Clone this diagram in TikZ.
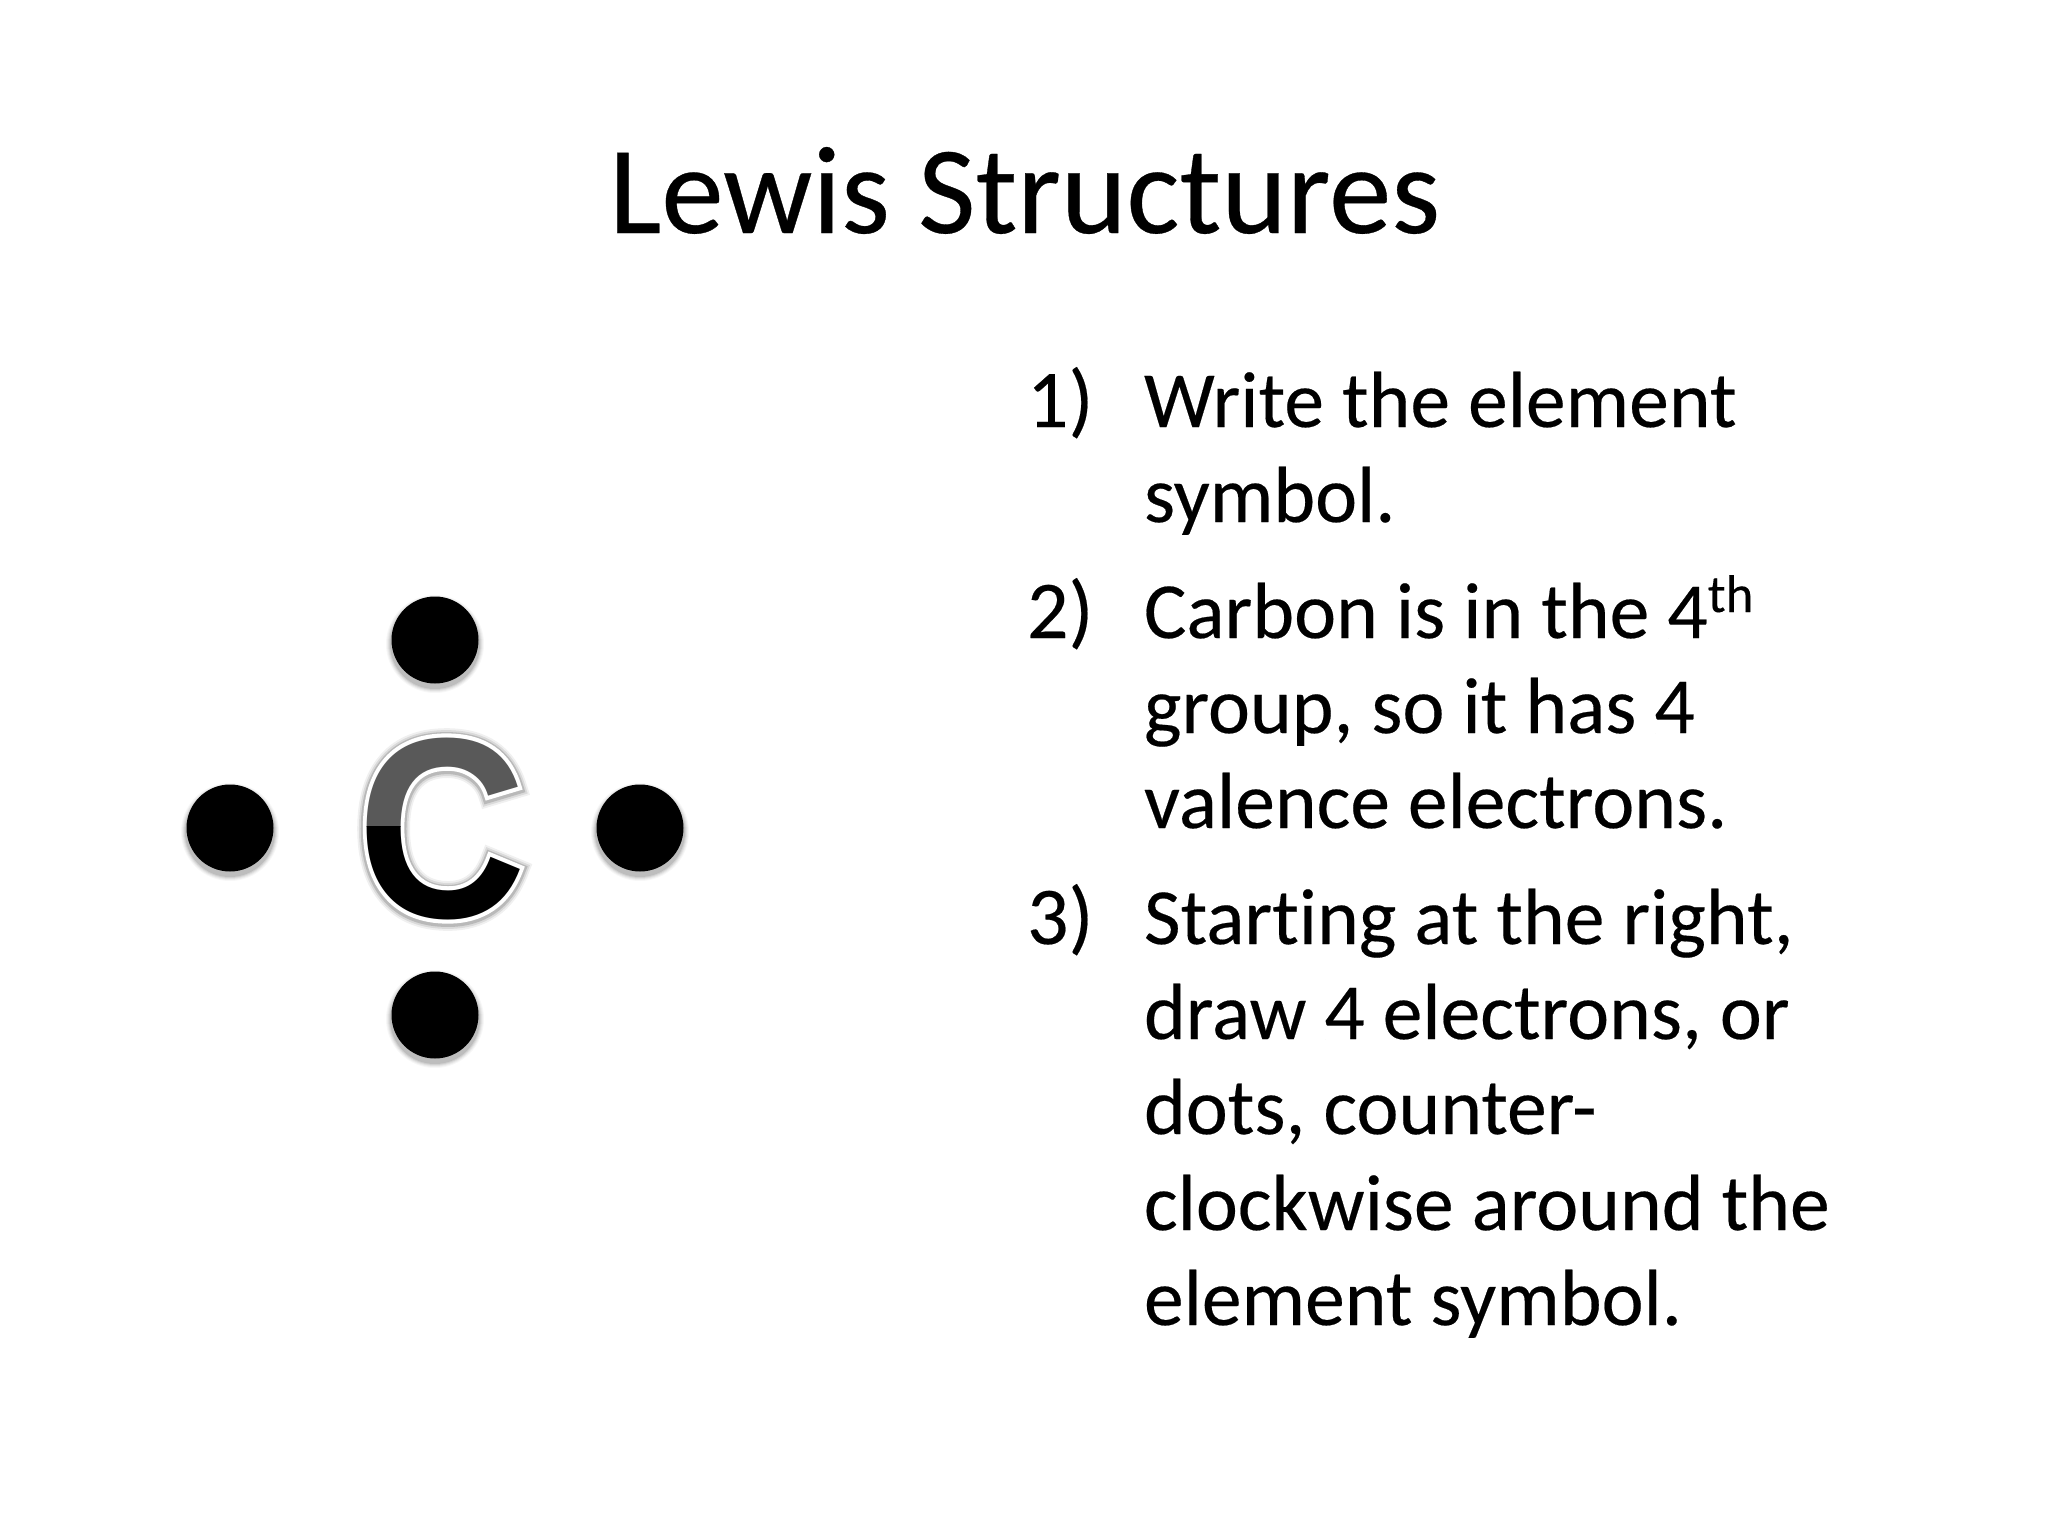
\documentclass[tikz,border=0pt]{standalone}
\usepackage{fontspec}
\setmainfont{Carlito}[Ligatures=NoCommon,FakeBold=0.25]
\newfontfamily\symfont{Liberation Sans Bold}
\newfontfamily\symwhite{Liberation Sans Bold}[FakeBold=3.2]
\newfontfamily\symhaloA{Liberation Sans Bold}[FakeBold=5]
\newfontfamily\symhaloB{Liberation Sans Bold}[FakeBold=6.5]
\newfontfamily\symhaloC{Liberation Sans Bold}[FakeBold=8]
\definecolor{capgray}{HTML}{595959}
\tikzset{
  linetext/.style={anchor=base west,inner sep=0pt,outer sep=0pt,text=black,font=\fontsize{79.6}{96}\selectfont},
  numtext/.style={linetext,font=\fontsize{82}{96}\selectfont},
  titletext/.style={anchor=base,inner sep=0pt,outer sep=0pt,text=black,font=\fontsize{125}{130}\selectfont},
  electron/.style={circle,fill=black,draw=none,inner sep=0pt,minimum size=87pt},
  symbolC/.style={anchor=base west,inner sep=0pt,outer sep=0pt,xscale=.93,yscale=1.02}
}
\newcommand{\softshadow}[2]{%
  \foreach \r/\o in {49/.03,48/.04,47/.05,46/.07,45/.09}{
    \fill[black,opacity=\o] (#1,#2+4) circle[radius=\r];
  }%
}
\newcommand{\bigsize}{\fontsize{252}{256}\selectfont}
\begin{document}
\begin{tikzpicture}[x=1pt,y=-1pt]
\useasboundingbox (0,0) rectangle (2048,1536);
\fill[white] (0,0) rectangle (2048,1536);
\node[titletext] (title) at (1024.5,233) {Lewis Structures};
% electrons
\softshadow{435}{640}\softshadow{230}{828}\softshadow{640}{828}\softshadow{435}{1015}
\node[electron] (etop) at (435,640) {};
\node[electron] (eleft) at (230,828) {};
\node[electron] (eright) at (640,828) {};
\node[electron] (ebottom) at (435,1015) {};
% element symbol: blurred halo, white outline, two-tone core
\node[symbolC,text=black,opacity=.06,font=\symhaloC\bigsize] (haloc) at (357,918) {C};
\node[symbolC,text=black,opacity=.09,font=\symhaloB\bigsize] (halob) at (357,918) {C};
\node[symbolC,text=black,opacity=.15,font=\symhaloA\bigsize] (haloa) at (357,918) {C};
\node[symbolC,text=white,font=\symwhite\bigsize] (outline) at (357,917) {C};
\begin{scope}
  \clip (300,700) rectangle (600,826);
  \node[symbolC,text=capgray,font=\symfont\bigsize] (cupper) at (357,917) {C};
\end{scope}
\begin{scope}
  \clip (300,826) rectangle (600,960);
  \node[symbolC,text=black,font=\symfont\bigsize] (clower) at (357,917) {C};
\end{scope}
% numbered list
\node[numtext] (n1) at (1027,427) {1)};
\node[linetext] (l1) at (1144,427) {Write the element};
\node[linetext] (l2) at (1144,522) {symbol.};
\node[numtext] (n2) at (1027,638) {2)};
\node[linetext] (l3) at (1144,638) {Carbon is in the 4\raisebox{26pt}{\fontsize{53}{53}\selectfont th}};
\node[linetext] (l4) at (1144,733) {group, so it has 4};
\node[linetext] (l5) at (1144,828) {valence electrons.};
\node[numtext] (n3) at (1027,944) {3)};
\node[linetext] (l6) at (1144,944) {Starting at the right,};
\node[linetext] (l7) at (1144,1039) {draw 4 electrons, or};
\node[linetext] (l8) at (1144,1134) {dots, counter-};
\node[linetext] (l9) at (1144,1230) {clockwise around the};
\node[linetext] (l10) at (1144,1325) {element symbol.};
\end{tikzpicture}
\end{document}
